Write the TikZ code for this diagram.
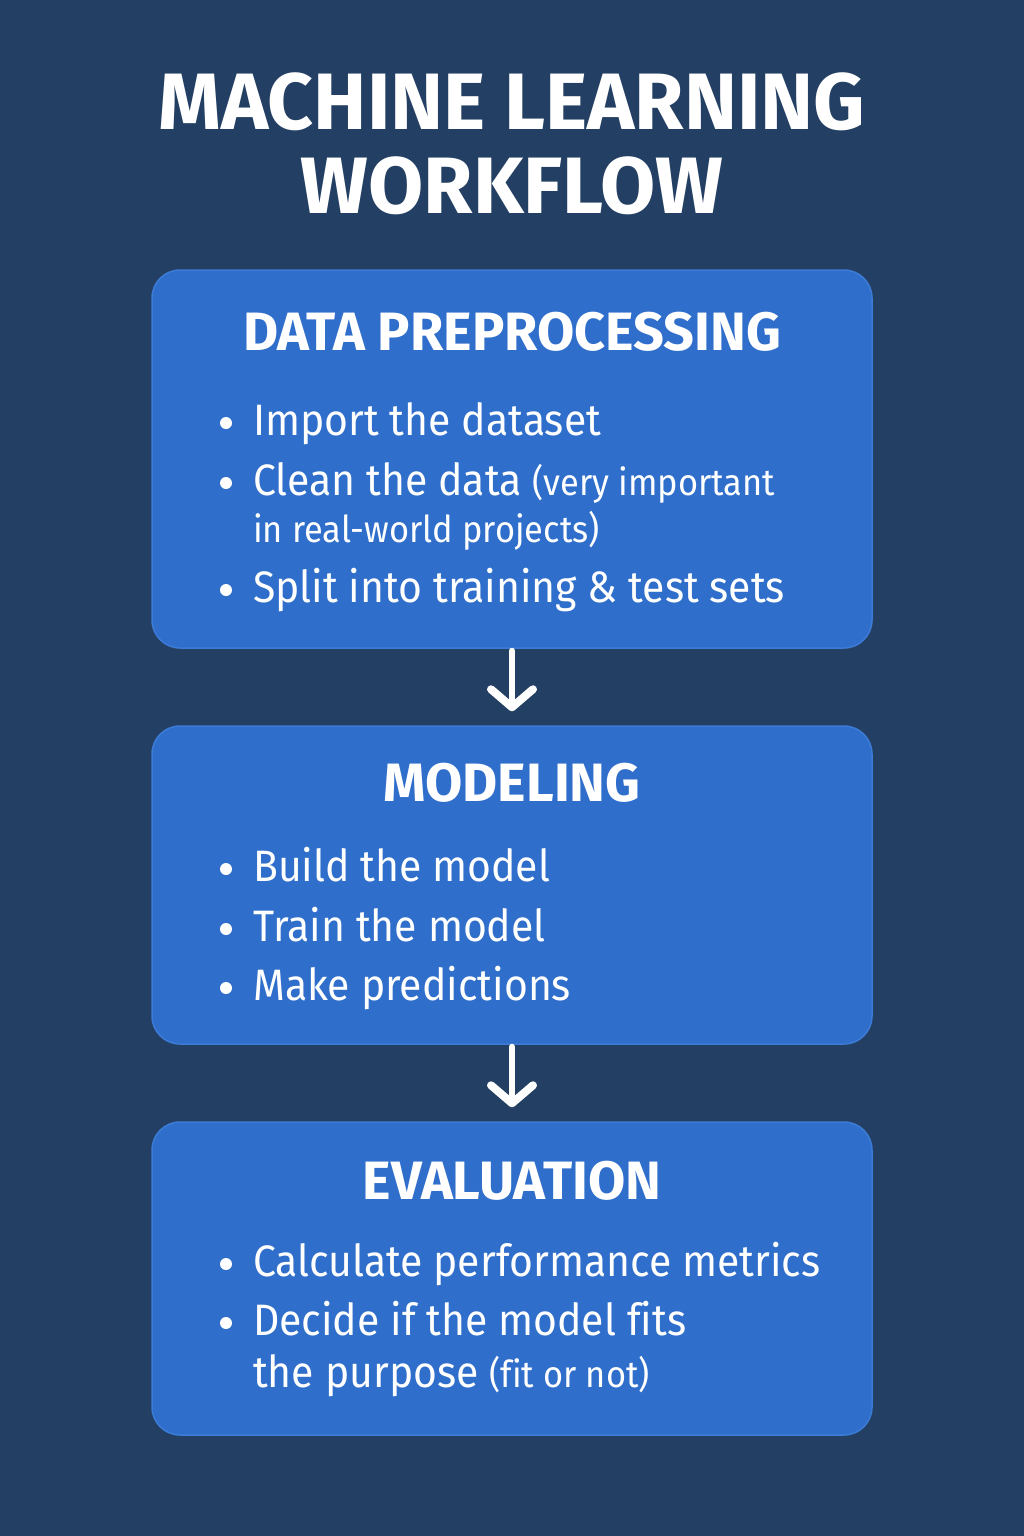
\documentclass[tikz,border=0pt]{standalone}
\usepackage{fontspec}
\usetikzlibrary{arrows.meta}
\newfontfamily\titlefont[Ligatures=NoCommon]{Fira Sans Bold}
\newfontfamily\headfont[Ligatures=NoCommon]{Fira Sans Bold}
\newfontfamily\bodyfont[FakeStretch=0.93, Ligatures=NoCommon]{Fira Sans}
\definecolor{bg}{HTML}{233F63}
\definecolor{boxfill}{HTML}{2F6ECB}
\definecolor{boxedge}{HTML}{3C7BD6}
\tikzset{
  x=1pt, y=-1pt,
  panel/.style={draw=boxedge, line width=1.5pt, fill=boxfill, rounded corners=28pt, minimum width=720pt, inner sep=0pt},
  title/.style={text=white, font=\titlefont\fontsize{80}{90}\selectfont, anchor=base, inner sep=0pt},
  head/.style={text=white, font=\headfont\fontsize{54}{60}\selectfont, anchor=base, inner sep=0pt},
  item/.style={text=white, font=\bodyfont\fontsize{44}{50}\selectfont, anchor=base west, inner sep=0pt},
  dot/.style={fill=white},
  flow/.style={draw=white, line width=6pt, line cap=round, -{Straight Barb[length=18pt, width=42pt, line width=8pt, line cap=round, line join=round]}},
}
\newcommand{\smalltxt}[1]{{\fontsize{37}{42}\selectfont #1}}
\begin{document}
\begin{tikzpicture}
\useasboundingbox (0,0) rectangle (1024,1536);
\fill[bg] (0,0) rectangle (1024,1536);

\node[title] (t1) at (512,130) {MACHINE LEARNING};
\node[title] (t2) at (512,213) {WORKFLOW};

% Box 1
\node[panel, minimum height=378pt] (b1) at (512,459) {};
\node[head] (h1) at (512,350) {DATA PREPROCESSING};
\node[item] (i11) at (253,435) {Import the dataset};
\node[item] (i12) at (253,495) {Clean the data \smalltxt{(very important}};
\node[item] (i13) at (253,542) {\smalltxt{in real-world projects)}};
\node[item] (i14) at (253,602) {Split into training \& test sets};
\fill[dot] (226,423) circle (6);
\fill[dot] (226,483) circle (6);
\fill[dot] (226,590) circle (6);

% Box 2
\node[panel, minimum height=318pt] (b2) at (512,885) {};
\node[head] (h2) at (512,801) {MODELING};
\node[item] (i21) at (253,881) {Build the model};
\node[item] (i22) at (253,941) {Train the model};
\node[item] (i23) at (253,1000) {Make predictions};
\fill[dot] (226,869) circle (6);
\fill[dot] (226,929) circle (6);
\fill[dot] (226,988) circle (6);

% Box 3
\node[panel, minimum height=313pt] (b3) at (512,1278.5) {};
\node[head] (h3) at (512,1199) {EVALUATION};
\node[item] (i31) at (253,1276) {Calculate performance metrics};
\node[item] (i32) at (253,1335) {Decide if the model fits};
\node[item] (i33) at (253,1387) {the purpose \smalltxt{(fit or not)}};
\fill[dot] (226,1264) circle (6);
\fill[dot] (226,1323) circle (6);

% Arrows
\draw[flow, shorten <=2pt, shorten >=14pt] (b1.south) -- (b2.north);
\draw[flow, shorten <=2pt, shorten >=14pt] (b2.south) -- (b3.north);
\end{tikzpicture}
\end{document}
